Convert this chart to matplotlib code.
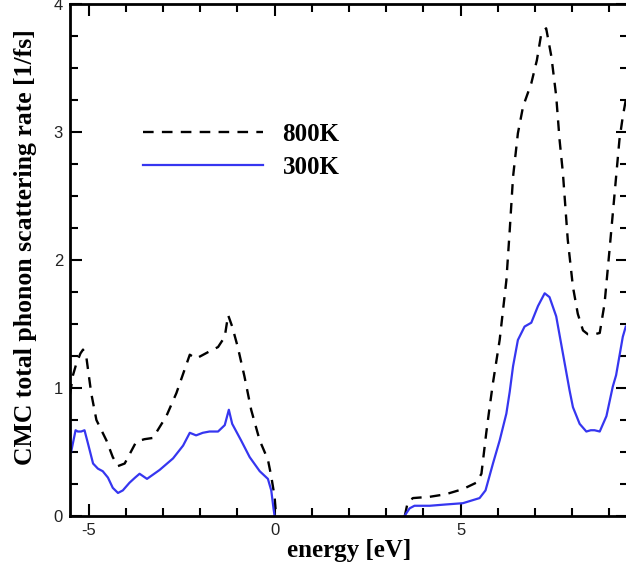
import numpy as np
import matplotlib as mpl
mpl.use('Agg')
import matplotlib.pyplot as plt
from matplotlib.ticker import MultipleLocator

mpl.rc('axes', unicode_minus=False)

# 300K curve (valence part, conduction part)
e300_lo = [-5.47, -5.35, -5.29, -5.20, -5.11, -5.02, -4.88, -4.75, -4.62, -4.48, -4.35, -4.21,
           -4.08, -3.90, -3.75, -3.63, -3.43, -3.09, -2.73, -2.46, -2.28, -2.11, -1.93, -1.75,
           -1.52, -1.34, -1.23, -1.14, -0.90, -0.67, -0.40, -0.18, -0.09, -0.03, 0.0]
r300_lo = [0.50, 0.67, 0.66, 0.66, 0.67, 0.57, 0.41, 0.37, 0.35, 0.30, 0.22, 0.18,
           0.20, 0.26, 0.30, 0.33, 0.29, 0.36, 0.45, 0.55, 0.65, 0.63, 0.65, 0.66,
           0.66, 0.71, 0.83, 0.72, 0.59, 0.46, 0.35, 0.29, 0.20, 0.06, 0.0]
e300_hi = [3.49, 3.63, 3.76, 4.17, 4.60, 5.06, 5.51, 5.67, 5.87, 6.05, 6.23, 6.32, 6.41,
           6.54, 6.72, 6.90, 7.08, 7.26, 7.39, 7.57, 7.75, 7.93, 8.02, 8.20, 8.38, 8.50,
           8.60, 8.74, 8.92, 9.09, 9.18, 9.36, 9.44]
r300_hi = [0.0, 0.06, 0.08, 0.08, 0.09, 0.10, 0.14, 0.20, 0.41, 0.59, 0.80, 0.97, 1.17,
           1.375, 1.48, 1.51, 1.64, 1.74, 1.71, 1.56, 1.27, 0.98, 0.85, 0.72, 0.66, 0.67,
           0.67, 0.66, 0.78, 1.01, 1.10, 1.40, 1.48]

# 800K curve
e800_lo = [-5.50, -5.42, -5.33, -5.22, -5.15, -5.06, -4.93, -4.79, -4.52, -4.35, -4.21,
           -4.03, -3.72, -3.50, -3.27, -2.91, -2.64, -2.46, -2.28, -2.11, -1.79, -1.52,
           -1.34, -1.25, -1.14, -0.99, -0.81, -0.63, -0.40, -0.18, -0.09, 0.0, 0.04]
r800_lo = [0.95, 1.10, 1.19, 1.27, 1.30, 1.24, 0.96, 0.75, 0.59, 0.46, 0.39,
           0.41, 0.58, 0.60, 0.61, 0.78, 0.96, 1.11, 1.26, 1.23, 1.28, 1.32,
           1.40, 1.57, 1.48, 1.32, 1.09, 0.83, 0.59, 0.44, 0.31, 0.15, 0.0]
e800_hi = [3.50, 3.58, 3.72, 4.17, 4.60, 5.06, 5.42, 5.56, 5.69, 5.78, 5.87, 6.05, 6.23,
           6.32, 6.41, 6.54, 6.68, 6.90, 7.05, 7.17, 7.30, 7.44, 7.57, 7.66, 7.75, 7.88,
           8.02, 8.15, 8.29, 8.42, 8.60, 8.74, 8.87, 9.01, 9.14, 9.27, 9.36, 9.44]
r800_hi = [0.0, 0.11, 0.14, 0.15, 0.17, 0.21, 0.26, 0.33, 0.65, 0.85, 1.04, 1.375, 1.84,
           2.23, 2.65, 2.99, 3.20, 3.38, 3.56, 3.77, 3.81, 3.59, 3.28, 2.94, 2.68, 2.16,
           1.79, 1.58, 1.45, 1.42, 1.42, 1.43, 1.66, 2.10, 2.52, 2.94, 3.12, 3.25]


def join(a, b):
  return np.concatenate([a, [np.nan], b])


fig = plt.figure(figsize=(6.26, 5.71), dpi=100)
ax = fig.add_axes([70/626., 55/571., 558/626., 512/571.])

ax.plot(join(e800_lo, e800_hi), join(r800_lo, r800_hi), color='black', lw=1.7,
        dashes=(4.5, 3.5), label='800K')
ax.plot(join(e300_lo, e300_hi), join(r300_lo, r300_hi), color='#3636f0', lw=1.6,
        label='300K')

ax.set_xlim(-5.5, 9.5)
ax.set_ylim(0, 4)
ax.xaxis.set_major_locator(MultipleLocator(5))
ax.xaxis.set_minor_locator(MultipleLocator(1))
ax.yaxis.set_major_locator(MultipleLocator(1))
ax.yaxis.set_minor_locator(MultipleLocator(0.25))
ax.tick_params(which='both', direction='in', top=True, right=True, width=1.5,
               labelsize=12, labelcolor='#222222', pad=5)
ax.tick_params(which='major', length=8.5)
ax.tick_params(which='minor', length=5.5)
for lab in ax.get_xticklabels() + ax.get_yticklabels():
  lab.set_family('Liberation Sans')
for sp in ax.spines.values():
  sp.set_linewidth(2)

ax.set_xlabel('energy [eV]', family='Liberation Serif', fontweight='bold', fontsize=18)
ax.set_ylabel('CMC total phonon scattering rate [1/fs]', family='Liberation Serif',
              fontweight='bold', fontsize=18.5)
ax.xaxis.set_label_coords(0.5, -0.045)
ax.yaxis.set_label_coords(-0.06, 0.525)

leg = ax.legend(loc='upper left', bbox_to_anchor=(0.13, 0.768), frameon=False,
                prop={'family': 'Liberation Serif', 'weight': 'bold', 'size': 18},
                handlelength=4.8, handletextpad=0.8, labelspacing=0.4,
                borderpad=0, borderaxespad=0)

plt.savefig('out.png', dpi=100)
